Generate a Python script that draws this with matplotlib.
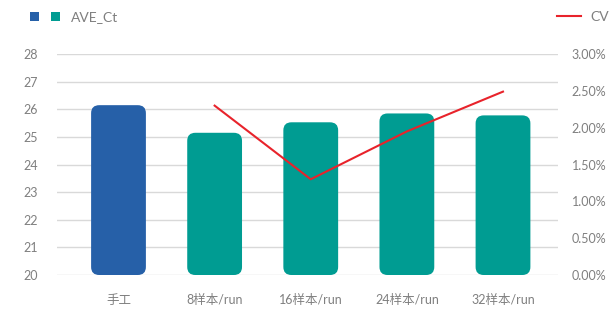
import matplotlib
matplotlib.use("Agg")
from matplotlib import pyplot as plt
from matplotlib.patches import FancyBboxPatch, Rectangle
from matplotlib.lines import Line2D
from matplotlib.ticker import FuncFormatter

plt.rcParams['font.family'] = ['Lato', 'Noto Sans CJK SC', 'DejaVu Sans']

categories = ['手工', '8样本/run', '16样本/run', '24样本/run', '32样本/run']
ave_ct = [26.15, 25.15, 25.53, 25.85, 25.78]
cv_x = [1, 2, 3, 4]
cv = [0.0230, 0.0130, 0.0195, 0.0249]

blue = '#2660a8'
teal = '#009c92'
red = '#e8232b'
grey = '#7f7f7f'

fig = plt.figure(figsize=(6.16, 3.09), dpi=100)
ax = fig.add_axes([0.0925, 0.11, 0.813, 0.715])

bar_colors = [blue] + [teal] * 4
bw = 0.57
for i, (v, c) in enumerate(zip(ave_ct, bar_colors)):
    p = FancyBboxPatch((i - bw / 2, 20), bw, v - 20,
                       boxstyle='round,pad=0,rounding_size=0.085',
                       mutation_aspect=3.4, fc=c, ec='none', zorder=3)
    ax.add_patch(p)

ax.set_xlim(-0.64, 4.57)
ax.set_ylim(20, 28)
ax.set_yticks(range(20, 29))
ax.yaxis.grid(True, color='#d9d9d9', lw=1)
ax.set_axisbelow(True)
ax.set_xticks(range(len(categories)))
ax.set_xticklabels(categories)
for s in ax.spines.values():
    s.set_visible(False)
ax.tick_params(length=0, colors=grey, labelsize=9)
ax.tick_params(axis='x', pad=14)
ax.tick_params(axis='y', pad=14)

ax2 = ax.twinx()
ax2.plot(cv_x, cv, color=red, lw=1.5, zorder=4)
ax2.set_ylim(0, 0.03)
ax2.set_yticks([0, 0.005, 0.01, 0.015, 0.02, 0.025, 0.03])
ax2.yaxis.set_major_formatter(FuncFormatter(lambda v, p: '%.2f%%' % (v * 100)))
for s in ax2.spines.values():
    s.set_visible(False)
ax2.tick_params(length=0, colors=grey, labelsize=9, pad=10)

# legends
fig.add_artist(Rectangle((30 / 616, 1 - 21 / 309), 9 / 616, 9 / 309, transform=fig.transFigure, fc=blue, ec='none'))
fig.add_artist(Rectangle((51 / 616, 1 - 21 / 309), 9 / 616, 9 / 309, transform=fig.transFigure, fc=teal, ec='none'))
fig.text(71 / 616, 1 - 17 / 309, 'AVE_Ct', color=grey, fontsize=10, va='center')
fig.add_artist(Line2D([557 / 616, 581 / 616], [1 - 16 / 309, 1 - 16 / 309], transform=fig.transFigure, color=red, lw=1.5))
fig.text(590 / 616, 1 - 17 / 309, 'CV', color=grey, fontsize=10, va='center')

plt.savefig('out.png')
